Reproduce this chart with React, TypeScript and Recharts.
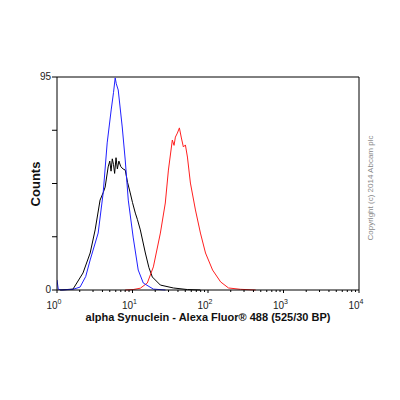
import { Line, LineChart, ReferenceLine, XAxis, YAxis } from "recharts";

type Pt = { x: number; y: number };

// fluorescence channel (log scale) vs counts
const blackSeries: Pt[] = [
  { x: 1.1, y: 0 }, { x: 1.63, y: 0.4 }, { x: 2.21, y: 7.6 }, { x: 2.75, y: 16.5 },
  { x: 3.2, y: 26.8 }, { x: 3.72, y: 40.1 }, { x: 4.1, y: 43.5 }, { x: 4.34, y: 45.9 },
  { x: 4.76, y: 54.9 }, { x: 5.0, y: 57.5 }, { x: 5.2, y: 53 }, { x: 5.4, y: 58.5 },
  { x: 5.6, y: 56 }, { x: 5.8, y: 52 }, { x: 6.05, y: 59 }, { x: 6.3, y: 54 },
  { x: 6.6, y: 57.5 }, { x: 7.0, y: 55 }, { x: 7.5, y: 54 }, { x: 8.01, y: 53.5 },
  { x: 8.6, y: 48 }, { x: 9.33, y: 43.3 }, { x: 10.0, y: 39 }, { x: 10.9, y: 34.3 },
  { x: 11.6, y: 31.5 }, { x: 12.7, y: 26.8 }, { x: 14.8, y: 16.5 }, { x: 16.5, y: 10 },
  { x: 18.3, y: 5.8 }, { x: 23.4, y: 2.2 }, { x: 34.8, y: 0.9 }, { x: 53.4, y: 0.2 },
  { x: 79.4, y: 0 },
];

const blueSeries: Pt[] = [
  { x: 1.0, y: 4.5 }, { x: 1.04, y: 0.3 }, { x: 1.16, y: 0 }, { x: 1.63, y: 0.3 },
  { x: 2.02, y: 1.3 }, { x: 2.4, y: 6 }, { x: 2.75, y: 13.4 }, { x: 3.51, y: 25.4 },
  { x: 4.09, y: 43.3 }, { x: 4.62, y: 65.6 }, { x: 5.22, y: 80.3 }, { x: 5.6, y: 88 },
  { x: 5.9, y: 94.6 }, { x: 6.1, y: 92 }, { x: 6.47, y: 89.2 }, { x: 7.31, y: 72.7 },
  { x: 8.01, y: 58.0 }, { x: 8.79, y: 40.1 }, { x: 10.2, y: 23.6 }, { x: 11.9, y: 8.9 },
  { x: 13.9, y: 3.1 }, { x: 18.9, y: 0.4 }, { x: 27.3, y: 0 },
];

const redSeries: Pt[] = [
  { x: 8.0, y: 0 }, { x: 10.2, y: 0.2 }, { x: 12.7, y: 0.8 }, { x: 15.7, y: 3.1 },
  { x: 18.9, y: 10.3 }, { x: 23.4, y: 25.4 }, { x: 27.2, y: 38.8 }, { x: 29.9, y: 53.5 },
  { x: 33.7, y: 66.9 }, { x: 35.5, y: 64.5 }, { x: 37.0, y: 68.2 }, { x: 39.3, y: 70.0 },
  { x: 41.8, y: 72.3 }, { x: 44.4, y: 67.8 }, { x: 47.2, y: 63.8 }, { x: 50.2, y: 64.7 },
  { x: 53.4, y: 59.3 }, { x: 58.5, y: 47.7 }, { x: 68.2, y: 35.7 }, { x: 79.4, y: 25.4 },
  { x: 92.7, y: 16.5 }, { x: 115, y: 8.9 }, { x: 147, y: 3.6 }, { x: 187, y: 0.9 },
  { x: 270, y: 0.3 }, { x: 428, y: 0 },
];

const majorTicks = [1, 10, 100, 1000, 10000];
const exponents = ["0", "1", "2", "3", "4"];
const minorTicks = [1, 10, 100, 1000].flatMap((d) => [2, 3, 4, 5, 6, 7, 8, 9].map((m) => m * d));
const xTicks = [...majorTicks, ...minorTicks];
const yTicks = [0, 23.75, 47.5, 71.25, 95];

const font = "Arial, 'Liberation Sans', sans-serif";

function XTick(props: any) {
  const { x, payload } = props;
  const axisY = 290;
  const i = majorTicks.indexOf(payload.value);
  if (i < 0) {
    return <line x1={x} x2={x} y1={axisY} y2={axisY + 2} stroke="#000" />;
  }
  return (
    <g>
      <line x1={x} x2={x} y1={axisY} y2={axisY + 3} stroke="#000" />
      <text x={x - 3} y={axisY + 19} textAnchor="middle" fontSize={10} fontFamily={font} fill="#222">
        10
        <tspan dy={-5} fontSize={7}>
          {exponents[i]}
        </tspan>
      </text>
    </g>
  );
}

function YTick(props: any) {
  const { y, payload } = props;
  const v = payload.value;
  const label = v === 0 ? "0" : v === 95 ? "95" : "";
  return (
    <g>
      <line x1={52} x2={57} y1={y} y2={y} stroke="#000" />
      {label && (
        <text x={51} y={y + 3} textAnchor="end" fontSize={10} fontFamily={font} fill="#222">
          {label}
        </text>
      )}
    </g>
  );
}

export default function App() {
  return (
    <div style={{ position: "absolute", left: 0, top: 0, width: 400, height: 400, background: "#fff" }}>
      <LineChart width={400} height={400} margin={{ top: 77, right: 41, bottom: 80, left: 0 }}>
        <XAxis
          dataKey="x"
          type="number"
          scale="log"
          domain={[1, 10000]}
          ticks={xTicks}
          interval={0}
          allowDataOverflow
          height={30}
          axisLine={{ stroke: "#000" }}
          tickLine={false}
          tick={<XTick />}
        />
        <YAxis
          type="number"
          domain={[0, 95]}
          ticks={yTicks}
          interval={0}
          width={57}
          axisLine={{ stroke: "#000" }}
          tickLine={false}
          tick={<YTick />}
        />
        <ReferenceLine y={95} stroke="#000" />
        <ReferenceLine x={10000} stroke="#000" />
        <Line data={blackSeries} dataKey="y" stroke="#000" strokeWidth={1} dot={false} isAnimationActive={false} type="linear" />
        <Line data={redSeries} dataKey="y" stroke="#ff2020" strokeWidth={1} dot={false} isAnimationActive={false} type="linear" />
        <Line data={blueSeries} dataKey="y" stroke="#2020ff" strokeWidth={1} dot={false} isAnimationActive={false} type="linear" />
        <text x={40} y={184} transform="rotate(-90 40 184)" textAnchor="middle" fontSize={13} fontWeight="bold" fontFamily={font} fill="#111">
          Counts
        </text>
        <text x={208} y={321} textAnchor="middle" fontSize={11} fontWeight="bold" fontFamily={font} fill="#111">
          alpha Synuclein - Alexa Fluor® 488 (525/30 BP)
        </text>
        <text x={373} y={188} transform="rotate(-90 373 188)" textAnchor="middle" fontSize={8} fontFamily={font} fill="#888">
          Copyright (c) 2014 Abcam plc
        </text>
      </LineChart>
    </div>
  );
}
